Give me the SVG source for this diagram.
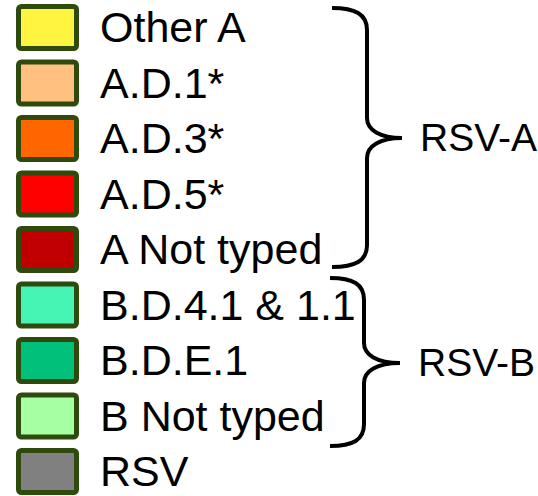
<svg xmlns="http://www.w3.org/2000/svg" width="538" height="496" viewBox="0 0 538 496">
<style>
.box{stroke:#2E4A0C;stroke-width:5;rx:3;ry:3}
.lbl{font-family:"Liberation Sans",Arial,sans-serif;font-size:43px;fill:#000}
.grp{font-family:"Liberation Sans",Arial,sans-serif;font-size:39px;fill:#000}
.brace{fill:none;stroke:#000;stroke-width:4;stroke-linecap:butt}
</style>
<rect width="538" height="496" fill="#fff"/>
<g id="item-otherA"><rect class="box" x="18.5" y="6.5" width="58" height="42" fill="#FFF540"/><text class="lbl" x="100" y="42">Other A</text></g>
<g id="item-AD1"><rect class="box" x="18.5" y="62" width="58" height="42" fill="#FFC080"/><text class="lbl" x="100" y="97.5">A.D.1*</text></g>
<g id="item-AD3"><rect class="box" x="18.5" y="117.5" width="58" height="42" fill="#FF6600"/><text class="lbl" x="100" y="153">A.D.3*</text></g>
<g id="item-AD5"><rect class="box" x="18.5" y="173" width="58" height="42" fill="#FF0000"/><text class="lbl" x="100" y="208.5">A.D.5*</text></g>
<g id="item-Anottyped"><rect class="box" x="18.5" y="228.5" width="58" height="42" fill="#C00000"/><text class="lbl" x="100" y="264">A Not typed</text></g>
<g id="item-BD41"><rect class="box" x="18.5" y="284" width="58" height="42" fill="#46F5B4"/><text class="lbl" x="100" y="319.5">B.D.4.1 &amp; 1.1</text></g>
<g id="item-BDE1"><rect class="box" x="18.5" y="339.5" width="58" height="42" fill="#00C07A"/><text class="lbl" x="100" y="375">B.D.E.1</text></g>
<g id="item-Bnottyped"><rect class="box" x="18.5" y="395" width="58" height="42" fill="#A6FFA0"/><text class="lbl" x="100" y="430.5">B Not typed</text></g>
<g id="item-RSV"><rect class="box" x="18.5" y="450.5" width="58" height="42" fill="#808080"/><text class="lbl" x="100" y="486">RSV</text></g>
<g id="connectors">
<path class="brace" d="M332,8 C355,8 367,14 367,30 L367,118 C367,130 380,138 402,138 C380,138 367,146 367,158 L367,245 C367,261 355,267 332,267"/>
<path class="brace" d="M330,278 C353,278 364,284 364,300 L364,343 C364,355 377,363 400,363 C377,363 364,371 364,383 L364,424 C364,440 353,446 330,446"/>
</g>
<g id="group-RSVA"><text class="grp" x="420" y="151">RSV-A</text></g>
<g id="group-RSVB"><text class="grp" x="418" y="376">RSV-B</text></g>
</svg>
